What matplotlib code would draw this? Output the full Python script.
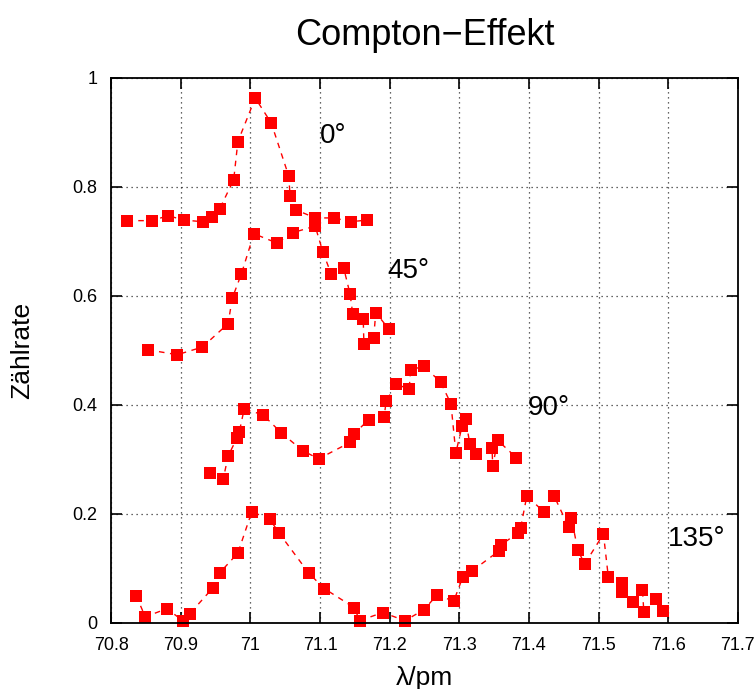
import matplotlib.pyplot as plt
from matplotlib.ticker import FuncFormatter

# 0 Grad
x0 = [70.823, 70.858, 70.882, 70.905, 70.932, 70.945, 70.956, 70.976, 70.982,
      71.007, 71.030, 71.055, 71.057, 71.065, 71.093, 71.120, 71.144, 71.167]
y0 = [0.738, 0.738, 0.747, 0.739, 0.736, 0.745, 0.760, 0.813, 0.883,
      0.963, 0.917, 0.820, 0.783, 0.758, 0.743, 0.743, 0.736, 0.739]

# 45 Grad
x45 = [70.853, 70.895, 70.931, 70.968, 70.974, 70.987, 71.005, 71.038, 71.061,
       71.093, 71.104, 71.116, 71.134, 71.143, 71.147, 71.162, 71.163, 71.177,
       71.180, 71.199]
y45 = [0.501, 0.492, 0.506, 0.549, 0.596, 0.640, 0.714, 0.697, 0.716,
       0.728, 0.681, 0.640, 0.651, 0.604, 0.567, 0.558, 0.512, 0.523,
       0.569, 0.539]

# 90 Grad
x90 = [70.942, 70.961, 70.968, 70.981, 70.984, 70.991, 71.018, 71.044, 71.075,
       71.098, 71.143, 71.149, 71.170, 71.192, 71.195, 71.209, 71.228, 71.230,
       71.249, 71.273, 71.288, 71.295, 71.304, 71.309, 71.315, 71.324, 71.347,
       71.348, 71.355, 71.382]
y90 = [0.275, 0.264, 0.306, 0.340, 0.350, 0.392, 0.382, 0.349, 0.316,
       0.301, 0.331, 0.347, 0.373, 0.378, 0.407, 0.438, 0.429, 0.464,
       0.471, 0.442, 0.402, 0.312, 0.361, 0.374, 0.329, 0.310, 0.320,
       0.287, 0.335, 0.303]

# 135 Grad
x135 = [70.836, 70.849, 70.880, 70.903, 70.913, 70.946, 70.956, 70.982, 71.002,
        71.028, 71.041, 71.084, 71.106, 71.149, 71.157, 71.190, 71.222, 71.249,
        71.268, 71.292, 71.305, 71.318, 71.357, 71.360, 71.384, 71.388, 71.397,
        71.421, 71.436, 71.457, 71.461, 71.470, 71.480, 71.507, 71.514, 71.533,
        71.533, 71.550, 71.563, 71.565, 71.582, 71.592]
y135 = [0.050, 0.011, 0.026, 0.004, 0.017, 0.064, 0.092, 0.128, 0.204,
        0.190, 0.165, 0.091, 0.063, 0.028, 0.004, 0.019, 0.004, 0.024,
        0.051, 0.040, 0.084, 0.095, 0.132, 0.143, 0.165, 0.174, 0.233,
        0.204, 0.233, 0.176, 0.193, 0.134, 0.108, 0.163, 0.084, 0.073,
        0.057, 0.039, 0.061, 0.020, 0.044, 0.022]

labels = ["0°", "45°", "90°", "135°"]
label_pos = [(71.1, 0.881), (71.197, 0.633), (71.398, 0.382), (71.6, 0.141)]

FONT = "Liberation Sans"

fig = plt.figure(figsize=(7.56, 6.89), dpi=100)
ax = fig.add_axes([0.147, 0.096, 0.829, 0.791])

for xs, ys in [(x0, y0), (x45, y45), (x90, y90), (x135, y135)]:
    ax.plot(xs, ys, color="red", linestyle=(0, (4, 4)), linewidth=1,
            marker="s", markersize=8, markeredgewidth=0, clip_on=False)

for txt, (lx, ly) in zip(labels, label_pos):
    ax.text(lx, ly, txt, fontsize=20, va="baseline", ha="left", family=FONT)

ax.set_xlim(70.8, 71.7)
ax.set_ylim(0, 1)
ax.set_xticks([70.8 + 0.1 * i for i in range(10)])
ax.set_yticks([0, 0.2, 0.4, 0.6, 0.8, 1.0])
ax.xaxis.set_major_formatter(FuncFormatter(lambda v, p: f"{v:g}"))
ax.yaxis.set_major_formatter(FuncFormatter(lambda v, p: f"{v:g}"))
ax.tick_params(direction="in", length=8, width=1.2, top=True, right=True,
               labelsize=13, pad=10)
for lab in ax.get_xticklabels() + ax.get_yticklabels():
    lab.set_family(FONT)
ax.grid(True, color="black", linestyle=(0, (1, 3)), linewidth=0.9, alpha=0.8)
for s in ax.spines.values():
    s.set_linewidth(1.3)

ax.set_title("Compton\u2212Effekt", fontsize=26, family=FONT, pad=24)
ax.set_xlabel("λ/pm", fontsize=19, family=FONT, va="center")
ax.xaxis.set_label_coords(0.5, -0.101)
ax.set_ylabel("Zählrate", fontsize=19, family=FONT, va="center")
ax.yaxis.set_label_coords(-0.142, 0.5)

fig.savefig("out.png", dpi=100)
